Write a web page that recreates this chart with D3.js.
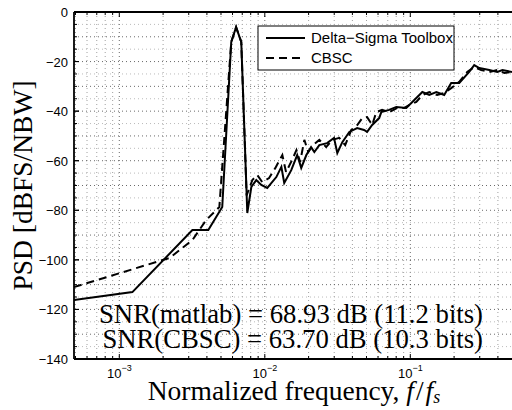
<!DOCTYPE html>
<html>
<head>
<meta charset="utf-8">
<script src="https://cdn.jsdelivr.net/npm/d3@7"></script>
<style>
  body { margin: 0; background: #fff; }
  svg { display: block; }
</style>
</head>
<body>
<svg id="chart" width="512" height="410"></svg>
<script>
// values
const toolboxFreq = [4.88e-4, 1.23e-3, 3.18e-3, 4.09e-3, 5.10e-3, 5.88e-3, 6.35e-3, 6.89e-3, 7.58e-3, 8.08e-3,
  8.74e-3, 9.46e-3, 1.04e-2, 1.20e-2, 1.30e-2, 1.36e-2, 1.52e-2, 1.67e-2, 1.78e-2, 1.93e-2,
  2.08e-2, 2.19e-2, 2.37e-2, 2.68e-2, 2.99e-2, 3.15e-2, 3.41e-2, 3.81e-2, 4.31e-2, 4.81e-2,
  5.05e-2, 5.47e-2, 6.11e-2, 6.32e-2, 7.15e-2, 8.01e-2, 9.39e-2, 0.1016, 0.121, 0.135,
  0.151, 0.171, 0.191, 0.217, 0.254, 0.275, 0.298, 0.349, 0.396, 0.43, 0.5];
const toolboxPsd = [-116.2, -113.0, -88.0, -88.0, -78.7, -12.1, -6.1, -12.1, -81.1, -70.6,
  -67.8, -69.8, -71.0, -66.6, -62.5, -69.0, -63.8, -57.7, -62.9, -57.7,
  -54.5, -56.5, -53.7, -52.9, -50.8, -56.9, -52.5, -48.4, -46.8, -47.6,
  -48.4, -45.6, -42.8, -40.4, -39.5, -38.3, -38.7, -36.7, -32.3, -33.5,
  -32.3, -33.5, -28.6, -28.6, -24.2, -21.4, -22.6, -23.4, -24.2, -23.4, -24.2];

const cbscFreq = [4.88e-4, 1.88e-3, 2.21e-3, 3.18e-3, 3.96e-3, 4.87e-3, 5.88e-3, 6.35e-3, 6.89e-3, 7.5e-3,
  8.21e-3, 8.88e-3, 9.6e-3, 1.07e-2, 1.18e-2, 1.32e-2, 1.40e-2, 1.54e-2, 1.65e-2, 1.75e-2,
  1.87e-2, 1.99e-2, 2.15e-2, 2.37e-2, 2.64e-2, 2.91e-2, 3.25e-2, 3.57e-2, 3.93e-2, 4.32e-2,
  4.68e-2, 5.05e-2, 5.47e-2, 5.84e-2, 6.40e-2, 7.17e-2, 8.14e-2, 9.1e-2, 9.87e-2, 0.11,
  0.121, 0.135, 0.153, 0.171, 0.191, 0.217, 0.246, 0.275, 0.307, 0.349, 0.396, 0.443, 0.5];
const cbscPsd = [-111.0, -100.5, -99.3, -92.0, -83.9, -78.7, -12.1, -6.1, -12.1, -74.0,
  -67.8, -65.8, -68.6, -67.0, -63.0, -57.7, -64.6, -59.7, -55.7, -60.5,
  -51.6, -56.5, -53.7, -51.6, -54.5, -51.6, -50.8, -53.7, -47.6, -45.6,
  -42.8, -42.4, -45.6, -40.4, -39.5, -40.4, -38.7, -38.7, -37.5, -36.3,
  -33.5, -32.3, -33.5, -32.7, -30.7, -28.2, -24.2, -22.2, -23.4, -24.2, -23.4, -24.6, -24.2];

const yTicks = [0, -20, -40, -60, -80, -100, -120, -140];
const xTickExp = [-3, -2, -1];
const legendLabels = ["Delta\u2212Sigma Toolbox", "CBSC"];
const snrLines = ["SNR(matlab) = 68.93 dB (11.2 bits)", "SNR(CBSC) = 63.70 dB (10.3 bits)"];

const svg = d3.select("#chart");
const margin = { top: 12, right: 0, bottom: 51, left: 74 };
const width = 512 - margin.left - margin.right;
const height = 410 - margin.top - margin.bottom;

const x = d3.scaleLog().domain([1 / 2048, 0.5]).range([0, width]);
const y = d3.scaleLinear().domain([-140, 0]).range([height, 0]);

const g = svg.append("g").attr("transform", `translate(${margin.left},${margin.top})`);

g.append("clipPath").attr("id", "clip")
  .append("rect").attr("width", width).attr("height", height);

const isDecade = d => Math.abs(Math.log10(d) - Math.round(Math.log10(d))) < 1e-9;

// grid
const xGrid = [];
for (let e = -4; e <= -1; e++) {
  for (let m = 1; m <= 9; m++) {
    const v = m * Math.pow(10, e);
    if (v > x.domain()[0] && v < x.domain()[1]) xGrid.push(v);
  }
}
const yGrid = d3.range(-135, 0, 5);

const grid = g.append("g").attr("clip-path", "url(#clip)");
grid.selectAll("line.vg")
  .data(xGrid)
  .enter()
  .append("line")
  .attr("x1", d => x(d)).attr("x2", d => x(d))
  .attr("y1", 0).attr("y2", height)
  .attr("stroke", d => (isDecade(d) ? "#444" : "#888"))
  .attr("stroke-width", 0.8)
  .attr("stroke-dasharray", "1,3");
grid.selectAll("line.hg")
  .data(yGrid)
  .enter()
  .append("line")
  .attr("x1", 0).attr("x2", width)
  .attr("y1", d => y(d)).attr("y2", d => y(d))
  .attr("stroke", d => (d % 10 === 0 ? "#444" : "#aaa"))
  .attr("stroke-width", 0.8)
  .attr("stroke-dasharray", "1,3");

// series
const line = d3.line().x(d => x(d[0])).y(d => y(d[1]));
const plot = g.append("g").attr("clip-path", "url(#clip)");

plot.append("path")
  .datum(toolboxFreq.map((f, i) => [f, toolboxPsd[i]]))
  .attr("fill", "none")
  .attr("stroke", "#000")
  .attr("stroke-width", 2)
  .attr("d", line);

plot.append("path")
  .datum(cbscFreq.map((f, i) => [f, cbscPsd[i]]))
  .attr("fill", "none")
  .attr("stroke", "#000")
  .attr("stroke-width", 2)
  .attr("stroke-dasharray", "8,5")
  .attr("d", line);

// axes box
g.append("line").attr("x1", 0).attr("x2", width).attr("y1", height).attr("y2", height)
  .attr("stroke", "#000").attr("stroke-width", 1.8);
g.append("line").attr("x1", 0).attr("x2", width).attr("y1", 0).attr("y2", 0)
  .attr("stroke", "#000").attr("stroke-width", 1.8);
g.append("line").attr("x1", 0).attr("x2", 0).attr("y1", 0).attr("y2", height)
  .attr("stroke", "#000").attr("stroke-width", 1.8);

// ticks inside
const ticks = g.append("g").attr("stroke", "#000").attr("stroke-width", 1);
ticks.selectAll("line.yt")
  .data(yGrid.concat(yTicks))
  .enter()
  .append("line")
  .attr("x1", 0)
  .attr("x2", d => (d % 20 === 0 ? 5 : 3))
  .attr("y1", d => y(d)).attr("y2", d => y(d));
ticks.selectAll("line.xt")
  .data(xGrid)
  .enter()
  .append("line")
  .attr("x1", d => x(d)).attr("x2", d => x(d))
  .attr("y1", height)
  .attr("y2", d => height - (isDecade(d) ? 5 : 3));
ticks.selectAll("line.xtt")
  .data(xGrid)
  .enter()
  .append("line")
  .attr("x1", d => x(d)).attr("x2", d => x(d))
  .attr("y1", 0)
  .attr("y2", d => (isDecade(d) ? 5 : 3));

// tick labels
g.selectAll("text.ylab")
  .data(yTicks)
  .enter()
  .append("text")
  .attr("x", -6)
  .attr("y", d => y(d) + 5)
  .attr("text-anchor", "end")
  .style("font-family", "'Liberation Sans', Arial, sans-serif")
  .style("font-size", "13px")
  .text(d => (d < 0 ? "\u2212" + Math.abs(d) : d));

const xl = g.selectAll("text.xlab")
  .data(xTickExp)
  .enter()
  .append("text")
  .attr("x", d => x(Math.pow(10, d)))
  .attr("y", height + 19)
  .attr("text-anchor", "middle")
  .style("font-family", "'Liberation Sans', Arial, sans-serif")
  .style("font-size", "13px");
xl.append("tspan").text("10");
xl.append("tspan").attr("dy", -7).style("font-size", "9px").text(d => "\u2212" + Math.abs(d));

// axis titles
svg.append("text")
  .attr("x", 294)
  .attr("y", 400)
  .attr("text-anchor", "middle")
  .style("font-family", "'Liberation Serif', 'Times New Roman', serif")
  .style("font-size", "27.5px")
  .call(t => {
    t.append("tspan").text("Normalized frequency, ");
    t.append("tspan").style("font-style", "italic").text("f");
    t.append("tspan").attr("dx", 2).text("/");
    t.append("tspan").attr("dx", 2).style("font-style", "italic").text("f");
    t.append("tspan").attr("dy", 3).style("font-style", "italic").style("font-size", "18px").text("s");
  });

svg.append("text")
  .attr("transform", `translate(32,${margin.top + height / 2}) rotate(-90)`)
  .attr("text-anchor", "middle")
  .style("font-family", "'Liberation Serif', 'Times New Roman', serif")
  .style("font-size", "27.5px")
  .text("PSD [dBFS/NBW]");

// SNR annotation
g.selectAll("text.snr")
  .data(snrLines)
  .enter()
  .append("text")
  .attr("x", 483 - margin.left)
  .attr("y", (d, i) => 323 - margin.top + i * 25)
  .attr("text-anchor", "end")
  .style("font-family", "'Liberation Serif', 'Times New Roman', serif")
  .style("font-size", "26.7px")
  .text(d => d);

// legend
const legend = svg.append("g").attr("transform", "translate(258,26)");
legend.append("rect")
  .attr("width", 196).attr("height", 44)
  .attr("fill", "#fff").attr("stroke", "#000").attr("stroke-width", 1);
legendLabels.forEach((label, i) => {
  const ly = 12 + i * 20;
  legend.append("line")
    .attr("x1", 8).attr("x2", 47)
    .attr("y1", ly).attr("y2", ly)
    .attr("stroke", "#000").attr("stroke-width", 2)
    .attr("stroke-dasharray", i === 1 ? "8,5" : null);
  legend.append("text")
    .attr("x", 53).attr("y", ly + 5)
    .style("font-family", "'Liberation Sans', Arial, sans-serif")
    .style("font-size", "15px")
    .text(label);
});
</script>
</body>
</html>
